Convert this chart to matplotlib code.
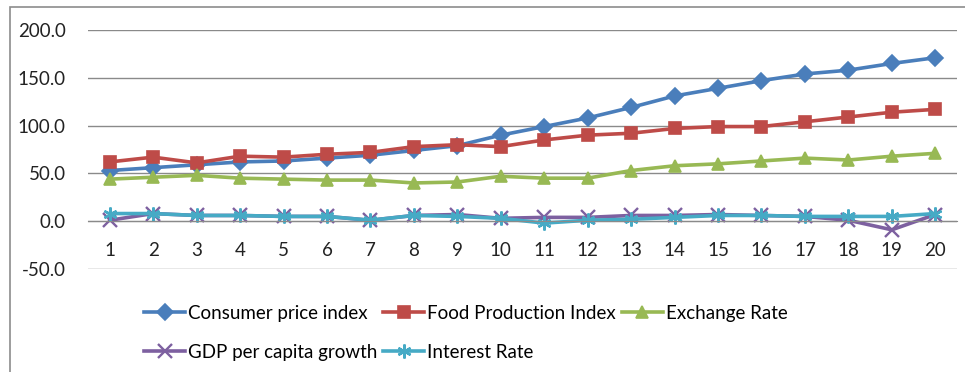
import matplotlib.pyplot as plt
from matplotlib.patches import Rectangle

years = list(range(1, 21))
cpi = [53, 56, 59, 62, 63, 66, 69, 74, 79, 90, 99, 108, 119, 131, 139, 147, 154, 158, 165, 171]
food = [62, 67, 61, 68, 67, 70, 72, 78, 80, 78, 85, 90, 92, 97, 99, 99, 104, 109, 114, 117]
exchange = [44, 46, 48, 45, 44, 43, 43, 40, 41, 47, 45, 45, 53, 58, 60, 63, 66, 64, 68, 71]
gdp = [1, 8, 6, 6, 5, 5, 1, 6, 7, 3, 4, 4, 6, 6, 7, 6, 5, 1, -9, 7]
interest = [8, 8, 6, 6, 5, 5, 1, 6, 5, 3, -2, 1, 2, 4, 6, 6, 5, 5, 5, 8]

names = ["Consumer price index", "Food Production Index", "Exchange Rate",
         "GDP per capita growth", "Interest Rate"]
colors = ["#4A7EBB", "#BE4B48", "#98B954", "#7D60A0", "#46AAC5"]
markers = ["D", "s", "^", "x", (6, 2, 0)]

plt.rcParams["font.family"] = ["Lato", "DejaVu Sans"]

fig = plt.figure(figsize=(9.65, 3.72), dpi=100)
ax = fig.add_axes([88 / 965, 1 - 269 / 372, (957 - 88) / 965, (269 - 30) / 372])

lines = []
for vals, name, c, m in zip([cpi, food, exchange, gdp, interest], names, colors, markers):
    filled = m in ("D", "s", "^")
    ln, = ax.plot(years, vals, color=c, lw=2.6, marker=m,
                  markersize=8 if filled else 10, markeredgewidth=1.2 if filled else 1.7,
                  label=name)
    lines.append(ln)

ax.set_xlim(0.5, 20.5)
ax.set_ylim(-50, 200)
ax.set_yticks([-50, 0, 50, 100, 150, 200])
ax.set_yticklabels(["%.1f" % v for v in [-50, 0, 50, 100, 150, 200]])
ax.yaxis.grid(True, color="#8a8a8a", lw=1)
ax.set_axisbelow(True)
for s in ["left", "right", "top"]:
    ax.spines[s].set_visible(False)
ax.spines["bottom"].set_position(("data", 0))
ax.spines["bottom"].set_color("#8a8a8a")
ax.set_xticks(years)
ax.tick_params(axis="x", length=0, pad=15, labelsize=13.5, colors="#222222")
ax.tick_params(axis="y", length=0, pad=16, labelsize=13.5, colors="#222222")

# Excel legend fills by row, matplotlib by column
order = [0, 3, 1, 4, 2]
fig.legend([lines[i] for i in order], [names[i] for i in order], ncol=3,
           loc="upper left", bbox_to_anchor=(144 / 965, 1 - 305 / 372),
           frameon=False, fontsize=13.5, handlelength=2.2, handletextpad=0.15,
           columnspacing=0.3, labelspacing=1.15, borderaxespad=0, borderpad=0)

fig.patches.append(Rectangle((10 / 965, -0.1), 1.0, 1 - 7 / 372 + 0.1,
                             transform=fig.transFigure, fill=False,
                             edgecolor="#8c8c8c", lw=1.2))

fig.savefig("out.png", dpi=100)
